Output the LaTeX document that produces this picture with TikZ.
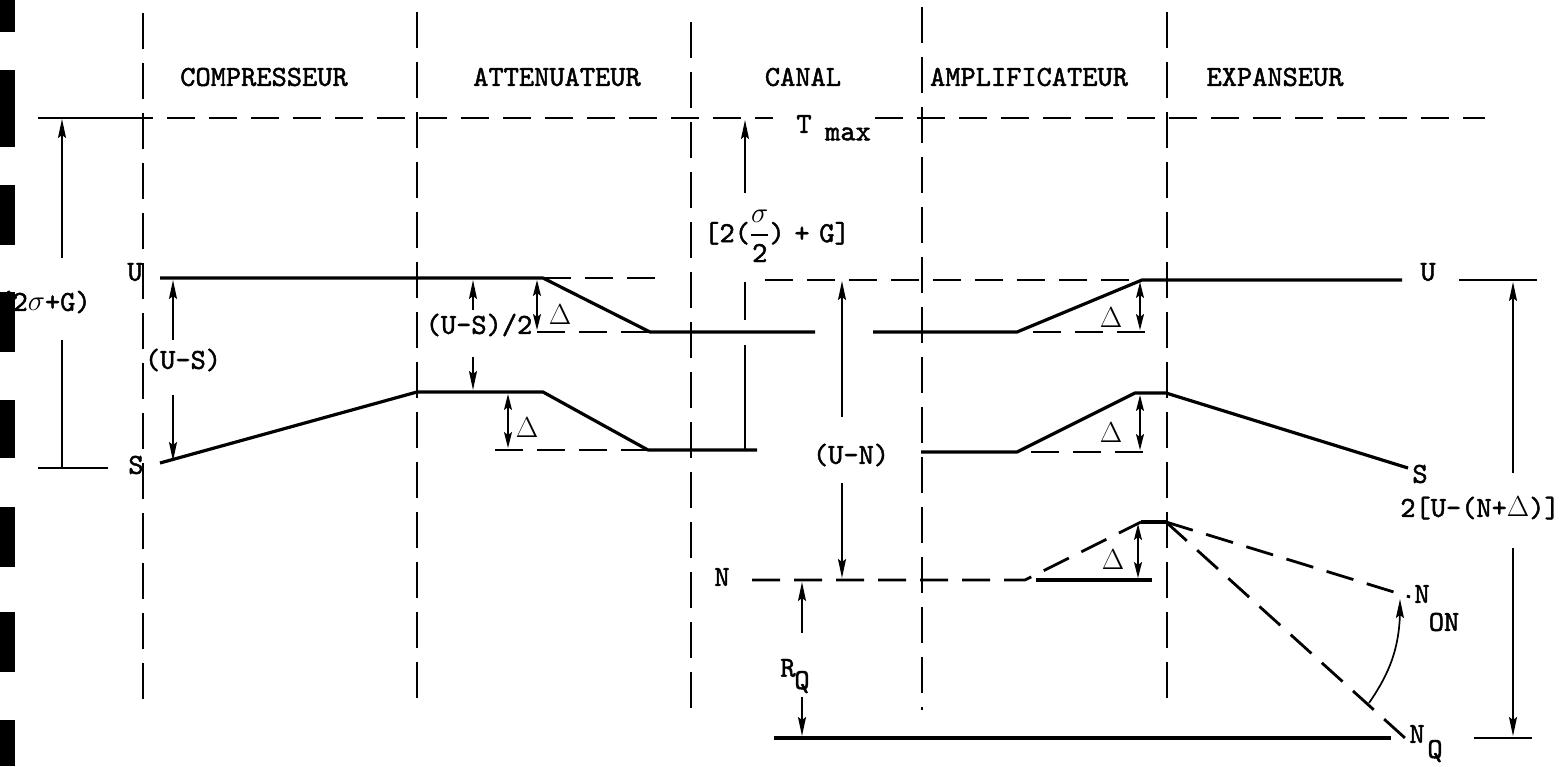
\RequirePackage{fix-cm}
\documentclass[tikz,border=0pt]{standalone}
\usepackage{fontspec}
\newfontfamily\tw{lmmono10-regular.otf}[FakeBold=1.6]
\usetikzlibrary{arrows.meta,bending}
\newcommand{\gD}{$\Delta$}
\begin{document}
\begin{tikzpicture}[x=1pt,y=-1pt,
  every node/.style={font=\tw\fontsize{29}{31}\selectfont, inner sep=0pt, anchor=center},
  solidln/.style={line width=3.2pt, line join=round},
  dashln/.style={line width=2.8pt, dash pattern=on 28pt off 14pt},
  divider/.style={line width=2pt, dash pattern=on 36pt off 14pt},
  dimln/.style={line width=1.7pt},
  tickln/.style={line width=2.6pt},
  tip/.style={-{Stealth[length=19pt,width=8pt,inset=3pt]}},
  tips/.style={{Stealth[length=16pt,width=8pt,inset=3pt]}-{Stealth[length=16pt,width=8pt,inset=3pt]}}
]
\useasboundingbox (0,0) rectangle (1564,766);
\fill[white] (0,0) rectangle (1564,766);

% section dividers
\foreach \n/\x/\a/\b in {da/143/13/710, db/417/12/698, dc/691/22/713, dd/922/7/710, de/1167/12/702}{
  \coordinate (\n t) at (\x,\a);
  \coordinate (\n b) at (\x,\b);
  \draw[divider] (\n t) -- (\n b);
}

% section labels
\node (comp) at (264,77) {COMPRESSEUR};
\node (att)  at (557,77) {ATTENUATEUR};
\node (can)  at (803,77) {CANAL};
\node (amp)  at (1029,77) {AMPLIFICATEUR};
\node (exp)  at (1275,77) {EXPANSEUR};

% T max level
\coordinate (tmL) at (38,118);
\coordinate (tmA) at (125,118);
\coordinate (tmB) at (773,118);
\coordinate (tmC) at (875,118);
\coordinate (tmD) at (1485,118);
\draw[tickln] (tmL) -- (tmA);
\draw[dashln] (tmA) -- (tmB);
\draw[dashln] (tmC) -- (tmD);
\node (tT) at (804,124) {T};
\node (tmax) at (848,134) {max};

% (2 sigma + G) dimension
\node (sg) at (44,302) {(2$\sigma$+G)};
\coordinate (sgT) at (62,119);
\coordinate (sgA) at (62,258);
\coordinate (sgB) at (62,340);
\coordinate (sgC) at (62,468);
\coordinate (sgL) at (38,468);
\coordinate (sgR) at (108,468);
\draw[dimln,tip] (sgA) -- (sgT);
\draw[dimln] (sgB) -- (sgC);
\draw[tickln] (sgL) -- (sgR);

% U level
\node (uL) at (135,272) {U};
\coordinate (u1) at (160,278);
\coordinate (u2) at (543,278);
\coordinate (u3) at (650,332);
\coordinate (u4) at (815,332);
\draw[solidln] (u1) -- (u2) -- (u3) -- (u4);
\coordinate (u5) at (663,278);
\draw[dashln] (u2) -- (u5);
\coordinate (u6) at (765,280);
\coordinate (u7) at (1142,280);
\draw[dashln] (u6) -- (u7);
\coordinate (u8) at (873,332);
\coordinate (u9) at (1017,332);
\coordinate (u10) at (1402,280);
\draw[solidln] (u8) -- (u9) -- (u7) -- (u10);
\coordinate (ua) at (537,332);
\draw[dashln] (ua) -- (u3);
\coordinate (ub) at (1033,332);
\coordinate (uc) at (1146,332);
\draw[dashln] (ub) -- (uc);
\node (uR) at (1428,272) {U};
\coordinate (utL) at (1459,280);
\coordinate (utR) at (1537,280);
\draw[tickln] (utL) -- (utR);

% S level
\node (sL) at (136,465) {S};
\coordinate (s1) at (160,463);
\coordinate (s2) at (417,392);
\coordinate (s3) at (543,392);
\coordinate (s4) at (648,450);
\coordinate (s5) at (757,450);
\draw[solidln] (s1) -- (s2) -- (s3) -- (s4) -- (s5);
\coordinate (sa) at (495,450);
\draw[dashln] (sa) -- (s4);
\coordinate (s6) at (921,452);
\coordinate (s7) at (1017,452);
\coordinate (s8) at (1135,393);
\coordinate (s9) at (1166,393);
\coordinate (s10) at (1408,468);
\draw[solidln] (s6) -- (s7) -- (s8) -- (s9) -- (s10);
\coordinate (sb) at (1031,452);
\coordinate (sc) at (1146,452);
\draw[dashln] (sb) -- (sc);
\node (sR) at (1420,474) {S};

% N level
\node (nL) at (722,577) {N};
\coordinate (n1) at (752,580);
\coordinate (n2) at (1025,580);
\coordinate (n3) at (1141,522);
\coordinate (n4) at (1166,522);
\draw[dashln] (n1) -- (n2) -- (n3);
\draw[solidln] (n3) -- (n4);
\coordinate (non) at (1410,597);
\coordinate (nq) at (1405,738);
\draw[dashln] (n4) -- (non);
\draw[dashln] (n4) -- (nq);
\coordinate (na) at (1036,580);
\coordinate (nb) at (1152,580);
\draw[solidln] (na) -- (nb);
\node (nonN) at (1422,594) {N};
\node (nonS) at (1444,622) {ON};
\node (nqN) at (1417,734) {N};
\node (nqS) at (1435,751) {Q};

% bottom level
\coordinate (b1) at (774,738);
\coordinate (b2) at (1391,738);
\draw[solidln] (b1) -- (b2);
\coordinate (btL) at (1474,738);
\coordinate (btR) at (1532,738);
\draw[tickln] (btL) -- (btR);

% (U-S)
\node (us) at (183,360) {(U–S)};
\coordinate (usT) at (173,280);
\coordinate (usA) at (173,340);
\coordinate (usB) at (173,395);
\coordinate (usC) at (173,461);
\draw[dimln,tip] (usA) -- (usT);
\draw[dimln,tip] (usB) -- (usC);

% (U-S)/2
\node (us2) at (479,325) {(U–S)/2};
\coordinate (hT) at (473,280);
\coordinate (hA) at (473,310);
\coordinate (hB) at (473,357);
\coordinate (hC) at (473,390);
\draw[dimln,tip] (hA) -- (hT);
\draw[dimln,tip] (hB) -- (hC);

% Delta arrows
\coordinate (d1a) at (537,280);
\coordinate (d1b) at (537,330);
\draw[dimln,tips] (d1a) -- (d1b);
\node (dl1) at (560,315) {\gD};
\coordinate (d2a) at (508,394);
\coordinate (d2b) at (508,448);
\draw[dimln,tips] (d2a) -- (d2b);
\node (dl2) at (527,428) {\gD};
\coordinate (d3a) at (1140,282);
\coordinate (d3b) at (1140,330);
\draw[dimln,tips] (d3a) -- (d3b);
\node (dl3) at (1111,318) {\gD};
\coordinate (d4a) at (1140,395);
\coordinate (d4b) at (1140,450);
\draw[dimln,tips] (d4a) -- (d4b);
\node (dl4) at (1111,433) {\gD};
\coordinate (d5a) at (1138,524);
\coordinate (d5b) at (1138,578);
\draw[dimln,tips] (d5a) -- (d5b);
\node (dl5) at (1113,560) {\gD};

% [2(sigma/2) + G]
\node (frac) at (777,236) {[2($\displaystyle{\sigma\above1.6pt\mbox{2}}$)\,\,+\,\,G]};
\coordinate (fT) at (745,120);
\coordinate (fA) at (745,193);
\coordinate (fB) at (745,282);
\coordinate (fC) at (745,320);
\coordinate (fD) at (745,345);
\coordinate (fE) at (745,450);
\draw[dimln,tip] (fA) -- (fT);
\draw[dimln] (fB) -- (fC);
\draw[dimln] (fD) -- (fE);

% (U-N)
\node (un) at (851,455) {(U–N)};
\coordinate (unT) at (842,281);
\coordinate (unA) at (842,417);
\coordinate (unB) at (842,483);
\coordinate (unC) at (842,578);
\draw[dimln,tip] (unA) -- (unT);
\draw[dimln,tip] (unB) -- (unC);

% R_Q
\node (rqR) at (788,668) {R};
\node (rqQ) at (802,682) {Q};
\coordinate (rT) at (802,582);
\coordinate (rA) at (802,633);
\coordinate (rB) at (802,697);
\coordinate (rC) at (802,736);
\draw[dimln,tip] (rA) -- (rT);
\draw[dimln,tip] (rB) -- (rC);

% 2[U-(N+Delta)]
\node (rd) at (1480,508) {2[U–(N+\gD)]};
\coordinate (rdT) at (1513,282);
\coordinate (rdA) at (1513,473);
\coordinate (rdB) at (1513,548);
\coordinate (rdC) at (1513,736);
\draw[dimln,tip] (rdA) -- (rdT);
\draw[dimln,tip] (rdB) -- (rdC);

% curved arrow N_Q -> N_ON
\coordinate (cA) at (1369,703);
\coordinate (cB) at (1400,599);
\draw[dimln,tip] (cA) to[bend right=18] (cB);

% film edge marks
\foreach \a/\b in {0/32, 70/147, 185/245, 292/352, 400/458, 507/567, 612/672, 720/766}{
  \fill[black] (0,\a) rectangle (15,\b);
}
\end{tikzpicture}
\end{document}
